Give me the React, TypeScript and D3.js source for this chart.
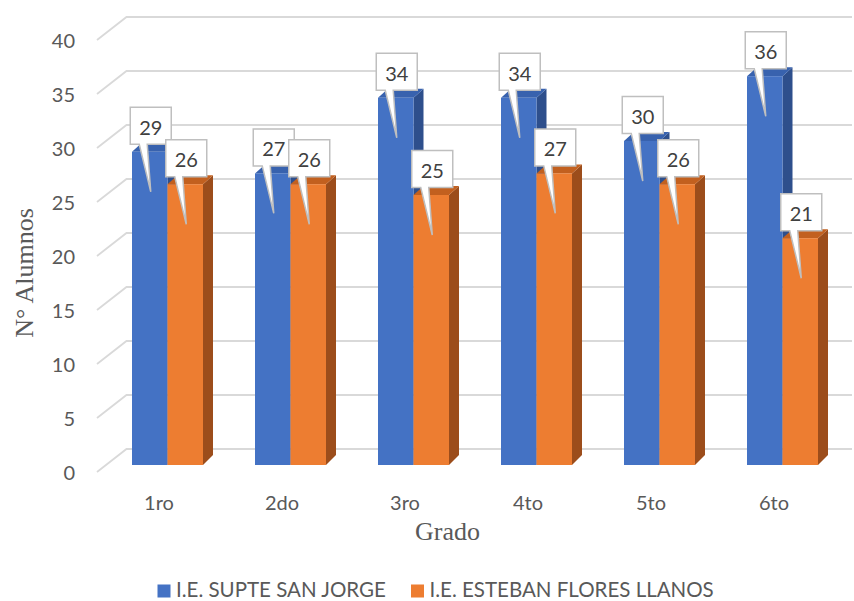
import React from "react";
import * as d3 from "d3";

const categories = ["1ro", "2do", "3ro", "4to", "5to", "6to"];
const seriesNames = ["I.E. SUPTE SAN JORGE", "I.E. ESTEBAN FLORES LLANOS"];
const sanJorge = [29, 27, 34, 34, 30, 36];
const floresLlanos = [26, 26, 25, 27, 26, 21];
const yTicks = [0, 5, 10, 15, 20, 25, 30, 35, 40];
const xTitle = "Grado";
const yTitle = "N° Alumnos";

const W = 854;
const H = 601;
const FRONT = [
  { front: "#4472C4", top: "#3862AE", side: "#2E4F8C" },
  { front: "#ED7D31", top: "#C2601F", side: "#9C4D1B" },
];
const DX = 10;
const DY = -9;
const SANS = "Lato, 'Open Sans', sans-serif";
const SERIF = "'Liberation Serif', 'DejaVu Serif', serif";

export default function App() {
  const x = d3.scaleBand<string>().domain(categories).range([106, 844]).padding(0);
  const groupW = 71;
  const inner = d3.scaleBand<number>().domain([0, 1]).range([0, groupW]).padding(0);
  const y = d3.scaleLinear().domain([0, 40]).range([465, 33]);
  const values = [sanJorge, floresLlanos];

  const gridFrontX = 97;
  const gridBackX = 126.5;
  const gridRight = 852;

  const bars: any[] = [];
  categories.forEach((c, i) => {
    const gx = (x(c) as number) + x.bandwidth() / 2 - groupW / 2;
    [0, 1].forEach((s) => {
      const v = values[s][i];
      const x0 = gx + (inner(s) as number);
      const x1 = x0 + inner.bandwidth();
      const y0 = y(0);
      const y1 = y(v);
      bars.push({ c, s, v, x0, x1, y0, y1 });
    });
  });

  const callouts = bars.map((b) => {
    const cx = (b.x0 + b.x1) / 2 + 1;
    const bw = 41;
    const bh = 37;
    const bottom = b.y1 - 7.5;
    const top = bottom - bh;
    const left = cx - bw / 2;
    const right = cx + bw / 2;
    const tipX = cx;
    const tipY = b.y1 + 40;
    const path = `M${left},${top} L${right},${top} L${right},${bottom} L${left + 17},${bottom} L${tipX},${tipY} L${left + 9},${bottom} L${left},${bottom} Z`;
    return { ...b, path, cx, cy: (top + bottom) / 2 };
  });

  return (
    <svg
      width={W}
      height={H}
      style={{ position: "absolute", left: 0, top: 0, background: "#fff" }}
    >
      <rect width={W} height={H} fill="#fff" />
      {/* gridlines */}
      <g stroke="#d9d9d9" strokeWidth={1.8} fill="none">
        {yTicks.map((t) => (
          <path
            key={t}
            d={`M${gridFrontX},${y(t) + 7} L${gridBackX},${y(t) - 16} L${gridRight},${y(t) - 16}`}
          />
        ))}
      </g>
      {/* y tick labels */}
      <g fontFamily={SANS} fontSize={20} fill="#595959" textAnchor="end">
        {yTicks.map((t) => (
          <text key={t} x={75} y={y(t) + 7} dominantBaseline="central">
            {t}
          </text>
        ))}
      </g>
      {/* bars */}
      {bars.map((b, k) => {
        const col = FRONT[b.s];
        return (
          <g key={k}>
            <path
              d={`M${b.x1},${b.y1} L${b.x1 + DX},${b.y1 + DY} L${b.x1 + DX},${b.y0 + DY - 1} L${b.x1},${b.y0} Z`}
              fill={col.side}
            />
            <path
              d={`M${b.x0},${b.y1} L${b.x0 + DX},${b.y1 + DY} L${b.x1 + DX},${b.y1 + DY} L${b.x1},${b.y1} Z`}
              fill={col.top}
            />
            <rect x={b.x0} y={b.y1} width={b.x1 - b.x0} height={b.y0 - b.y1} fill={col.front} />
          </g>
        );
      })}
      {/* callouts */}
      {callouts.map((c, k) => (
        <g key={k}>
          <path d={c.path} fill="#fff" stroke="#bfbfbf" strokeWidth={1.5} strokeLinejoin="miter" />
          <text
            x={c.cx}
            y={c.cy + 1}
            textAnchor="middle"
            dominantBaseline="central"
            fontFamily={SANS}
            fontSize={20}
            fill="#404040"
          >
            {c.v}
          </text>
        </g>
      ))}
      {/* category labels */}
      <g fontFamily={SANS} fontSize={20} fill="#595959" textAnchor="middle">
        {categories.map((c) => (
          <text key={c} x={(x(c) as number) + x.bandwidth() / 2 - 8.5} y={510}>
            {c}
          </text>
        ))}
      </g>
      {/* axis titles */}
      <text x={447.5} y={540} textAnchor="middle" fontFamily={SERIF} fontSize={26} fill="#595959">
        {xTitle}
      </text>
      <text
        transform={`translate(33,273) rotate(-90)`}
        textAnchor="middle"
        fontFamily={SERIF}
        fontSize={26}
        fill="#595959"
      >
        {yTitle}
      </text>
      {/* legend */}
      <g fontFamily={SANS} fontSize={20.5} fill="#595959">
        <rect x={157.5} y={584.5} width={13} height={13} fill={FRONT[0].front} />
        <text x={176} y={597}>{seriesNames[0]}</text>
        <rect x={411} y={584.5} width={13} height={13} fill={FRONT[1].front} />
        <text x={429.5} y={597}>{seriesNames[1]}</text>
      </g>
    </svg>
  );
}
